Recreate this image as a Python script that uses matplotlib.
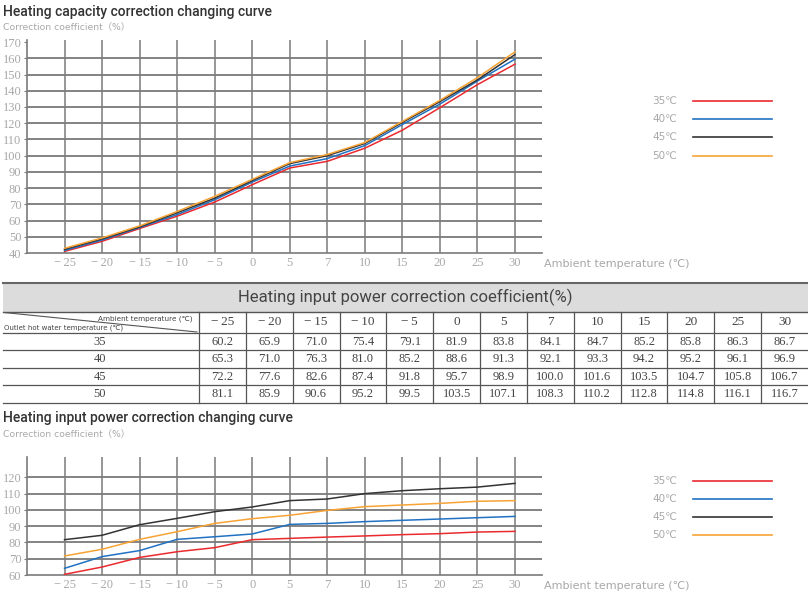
import matplotlib
matplotlib.use("Agg")
import matplotlib.pyplot as plt
from matplotlib.lines import Line2D
from matplotlib.patches import Rectangle

W, H = 808, 616

# x categories (evenly spaced, 5 and 7 included)
temps = [-25, -20, -15, -10, -5, 0, 5, 7, 10, 15, 20, 25, 30]
series = ["35℃", "40℃", "45℃", "50℃"]
colors = ["#ea2a2f", "#2172c2", "#333333", "#f7a336"]

# heating capacity curves
cap_35 = [41.0, 47.2, 55.1, 62.7, 71.4, 82.1, 92.4, 96.5, 104.6, 115.7, 129.6, 143.8, 156.4]
cap_40 = [41.6, 48.0, 55.7, 63.7, 72.8, 83.7, 93.6, 98.2, 106.2, 119.2, 131.8, 146.0, 159.5]
cap_45 = [42.3, 48.7, 56.1, 64.8, 73.8, 84.6, 95.1, 100.0, 107.5, 120.5, 133.3, 146.7, 162.3]
cap_50 = [42.9, 49.3, 56.7, 65.6, 74.9, 85.4, 95.7, 100.7, 108.1, 121.1, 134.1, 148.1, 164.0]

# input power table
tbl_35 = [60.2, 65.9, 71.0, 75.4, 79.1, 81.9, 83.8, 84.1, 84.7, 85.2, 85.8, 86.3, 86.7]
tbl_40 = [65.3, 71.0, 76.3, 81.0, 85.2, 88.6, 91.3, 92.1, 93.3, 94.2, 95.2, 96.1, 96.9]
tbl_45 = [72.2, 77.6, 82.6, 87.4, 91.8, 95.7, 98.9, 100.0, 101.6, 103.5, 104.7, 105.8, 106.7]
tbl_50 = [81.1, 85.9, 90.6, 95.2, 99.5, 103.5, 107.1, 108.3, 110.2, 112.8, 114.8, 116.1, 116.7]
row_names = ["35", "40", "45", "50"]

# input power curves as drawn (black and orange lines are drawn swapped vs legend)
pw_35 = [60.4, 64.9, 70.8, 74.3, 76.8, 81.7, 82.5, 83.3, 84.0, 84.8, 85.4, 86.4, 86.8]
pw_40 = [64.1, 71.3, 75.0, 81.9, 83.5, 85.2, 91.1, 91.7, 92.8, 93.6, 94.4, 95.2, 96.0]
pw_45 = [81.7, 84.4, 90.9, 94.8, 98.9, 101.8, 105.7, 106.7, 110.0, 111.8, 113.0, 114.0, 116.3]
pw_50 = [71.7, 75.8, 81.9, 86.6, 91.7, 94.6, 96.7, 99.7, 102.0, 103.0, 104.0, 105.3, 105.7]

cap_ticks = list(range(40, 171, 10))
pw_ticks = list(range(60, 121, 10))

TXT = "#444444"
LIGHT = "#a8a8a8"
GRID = "#7a7a7a"
CJK = ["DejaVu Sans", "Noto Sans CJK SC"]

fig = plt.figure(figsize=(W / 100, H / 100), dpi=100)


def fx(x):
    return x / W


def fy(y):
    return 1 - y / H


def ax_box(left, top, right, bottom):
    return [fx(left), fy(bottom), (right - left) / W, (bottom - top) / H]


def tick_text(t):
    return str(t).replace("-", "\u2212\u2009")


def draw_chart(box, data, ticks, ylim, label_y):
    ax = fig.add_axes(box)
    idx = list(range(len(temps)))
    for vals, c in zip(data, colors):
        ax.plot(idx, vals, color=c, lw=1.1, zorder=3)
    ax.set_xlim(-1, 12.72)
    ax.set_ylim(*ylim)
    ax.set_xticks(idx)
    ax.set_xticklabels([tick_text(t) for t in temps],
                       family=["Liberation Serif", "DejaVu Serif"], fontsize=9, color=LIGHT)
    ax.set_yticks(ticks)
    ax.set_yticklabels([str(t) for t in ticks],
                       family="Liberation Serif", fontsize=9, color=LIGHT)
    ax.tick_params(axis="x", length=0, pad=3)
    ax.tick_params(axis="y", length=2, pad=2, color=GRID)
    for s in ["top", "right"]:
        ax.spines[s].set_visible(False)
    for s in ["left", "bottom"]:
        ax.spines[s].set_color(GRID)
        ax.spines[s].set_linewidth(1.2)
    ax.grid(axis="x", color=GRID, lw=1.1, zorder=1)
    ax.hlines(ticks[1:] if ticks[-1] < ylim[1] - 5 else ticks[1:-1],
              -1, 12.72, color=GRID, lw=1.3, zorder=1)
    ax.set_axisbelow(True)
    fig.text(fx(544), fy(label_y), "Ambient temperature (℃)", fontsize=8,
             color=LIGHT, va="center", ha="left", family=CJK)
    return ax


def draw_legend(ys):
    for name, c, y in zip(series, colors, ys):
        fig.text(fx(677), fy(y), name, fontsize=7.5, color=LIGHT,
                 ha="right", va="center", family=CJK)
        fig.add_artist(Line2D([fx(693), fx(772)], [fy(y), fy(y)],
                              color=c, lw=1.2, transform=fig.transFigure))


# ---- top chart
fig.text(fx(3), fy(12), "Heating capacity correction changing curve",
         fontsize=10, color="#333333", family="Roboto", weight="medium",
         va="center", ha="left")
fig.text(fx(3), fy(28), "Correction coefficient（%）", fontsize=6.7,
         color=LIGHT, va="center", ha="left", family=CJK)
draw_chart(ax_box(27, 40, 542, 253), [cap_35, cap_40, cap_45, cap_50],
           cap_ticks, (40, 171.3), 264)
draw_legend([101, 119, 137, 156])

# ---- table
tax = fig.add_axes([0, 0, 1, 1])
tax.set_xlim(0, W)
tax.set_ylim(H, 0)
tax.axis("off")
tax.add_patch(Rectangle((3, 283), W - 3, 28.5, facecolor="#dcdcdc",
                        edgecolor="none"))
tax.text(405, 297.5, "Heating input power correction coefficient(%)",
         fontsize=12, color=TXT, ha="center", va="center", family="Roboto")
col0 = 199
cw = (W - col0) / len(temps)
hdr_top, hdr_bot = 311.5, 333
rh = (402.7 - hdr_bot) / len(row_names)
tax.plot([3, W], [283, 283], color="#666666", lw=1.5)
tax.plot([3, W], [hdr_top, hdr_top], color="#555555", lw=1.0)
for i in range(len(row_names) + 1):
    yl = hdr_bot + i * rh
    tax.plot([3, W], [yl, yl], color="#555555", lw=0.9)
for j in range(len(temps)):
    xl = col0 + j * cw
    tax.plot([xl, xl], [hdr_top, 402.7], color="#555555", lw=0.9)
tax.plot([4, col0 - 2], [hdr_top + 1, hdr_bot - 1], color="#555555", lw=0.8)
tax.text(col0 - 6, 319, "Ambient temperature (℃)", fontsize=5.2, color=TXT,
         ha="right", va="center", family=CJK)
tax.text(4, 327.5, "Outlet hot water temperature (℃)", fontsize=5.0, color=TXT,
         ha="left", va="center", family=CJK)
for j, t in enumerate(temps):
    tax.text(col0 + (j + 0.5) * cw, (hdr_top + hdr_bot) / 2, tick_text(t),
             fontsize=9.5, color=TXT, ha="center", va="center",
             family=["Liberation Serif", "DejaVu Serif"])
for i, (name, vals) in enumerate(zip(row_names, [tbl_35, tbl_40, tbl_45, tbl_50])):
    yc = hdr_bot + (i + 0.5) * rh
    tax.text(col0 / 2, yc, name, fontsize=9, color=TXT, ha="center",
             va="center", family="Liberation Serif")
    for j, v in enumerate(vals):
        tax.text(col0 + (j + 0.5) * cw, yc, f"{v:.1f}", fontsize=9, color=TXT,
                 ha="center", va="center", family="Liberation Serif")

# ---- bottom chart
fig.text(fx(3), fy(418), "Heating input power correction changing curve",
         fontsize=10, color="#333333", family="Roboto", weight="medium",
         va="center", ha="left")
fig.text(fx(3), fy(435), "Correction coefficient（%）", fontsize=6.7,
         color=LIGHT, va="center", ha="left", family=CJK)
draw_chart(ax_box(27, 457, 542, 575), [pw_35, pw_40, pw_45, pw_50],
           pw_ticks, (60, 132.5), 586)
draw_legend([481, 499, 517, 535])

fig.savefig("out.png", dpi=100)
